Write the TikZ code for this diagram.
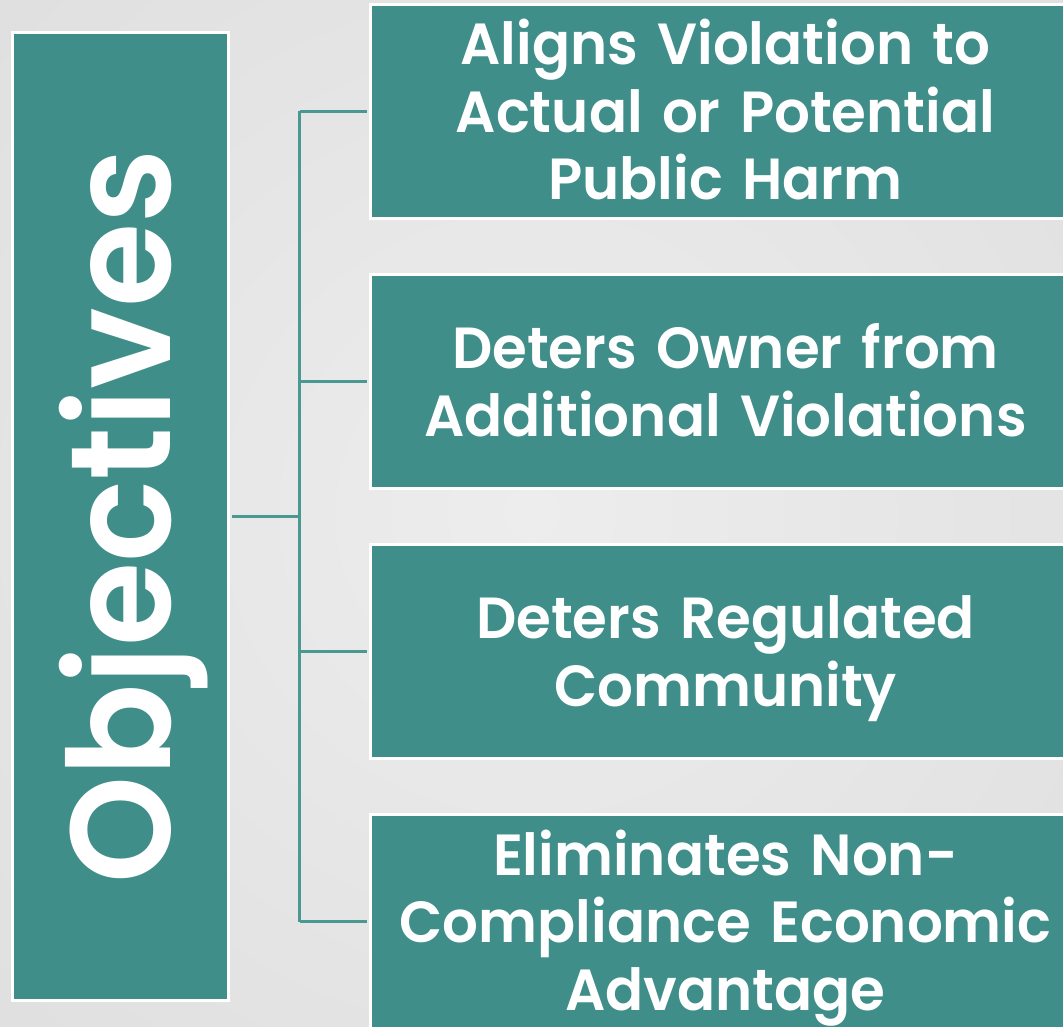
\documentclass[tikz,border=0pt]{standalone}
\usepackage{fontspec}
\newfontfamily\itemfont{Poppins}[BoldFont={Poppins SemiBold}, FakeStretch=0.97]
\newfontfamily\objfont{Poppins}[BoldFont={Poppins SemiBold}, FakeStretch=0.96]
\usetikzlibrary{calc}
\definecolor{teal1}{RGB}{63,142,137}
\definecolor{conn}{RGB}{74,152,146}
\definecolor{bgin}{RGB}{237,237,237}
\definecolor{bgout}{RGB}{224,224,224}
\newcommand\Ln[1]{\smash{#1}\rule[-8pt]{0pt}{58pt}}
\tikzset{
  panel/.style={draw=white, line width=3pt, fill=teal1, inner sep=0pt},
  objbox/.style={panel, minimum width=216pt, minimum height=968pt},
  itembox/.style={panel, minimum width=711pt, minimum height=214pt,
    text=white, text width=700pt, align=center,
    font=\itemfont\fontsize{58}{67.5}\selectfont\bfseries},
  link/.style={draw=conn, line width=3pt}
}
\begin{document}
\begin{tikzpicture}[x=1pt,y=-1pt]
\useasboundingbox (0,0) rectangle (1063,1027);
\shade[inner color=bgin, outer color=bgout] (-200,-200) rectangle (1263,1227);
\node[objbox] (L) at (120.5,516.5) {};
\node[text=white, font=\objfont\fontsize{142}{150}\selectfont\bfseries, rotate=90, anchor=base, inner sep=0pt] (obj) at (170,516.5) {Objectives};
\node[itembox] (b1) at (725.5,111.5) {\Ln{Aligns Violation to}\\\Ln{Actual or Potential}\\\Ln{Public Harm}};
\node[itembox] (b2) at (725.5,381.5) {\Ln{Deters Owner from}\\\Ln{Additional Violations}};
\node[itembox] (b3) at (725.5,651.5) {\Ln{Deters Regulated}\\\Ln{Community}};
\node[itembox] (b4) at (725.5,921.5) {\Ln{Eliminates Non-}\\\Ln{Compliance Economic}\\\Ln{Advantage}};
\coordinate (j) at (299.5,516.5);
\draw[link, shorten <=1.5pt] (L.east |- j) -- (j);
\draw[link] (j |- b1.west) -- (j |- b4.west);
\foreach \b in {b1,b2,b3,b4}{
  \draw[link, shorten >=1.5pt] (j |- \b.west) -- (\b.west);
}
\end{tikzpicture}
\end{document}
